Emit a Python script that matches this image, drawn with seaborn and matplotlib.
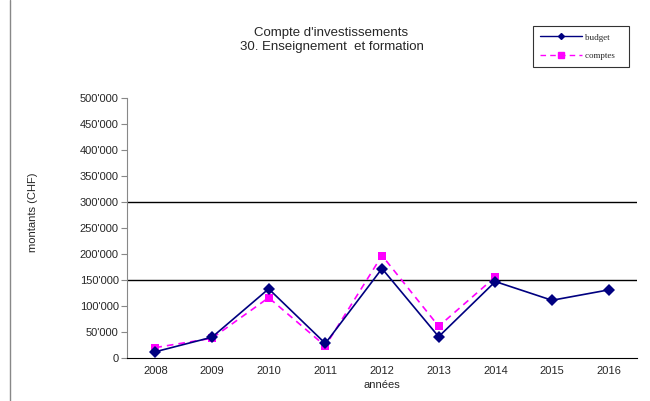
import numpy as np
import pandas as pd
import matplotlib
matplotlib.use("Agg")
from matplotlib import pyplot as plt
from matplotlib.ticker import FuncFormatter, FixedLocator
from matplotlib.lines import Line2D
import seaborn as sns

# data
years = ["2008", "2009", "2010", "2011", "2012", "2013", "2014", "2015", "2016"]
budget = [12000, 40000, 133000, 28000, 172000, 41000, 147000, 111000, 131000]
comptes = [20000, 38000, 116000, 23000, 197000, 61000, 156000]

sns.set_style("white")
plt.rcParams['font.family'] = ['Liberation Sans', 'DejaVu Sans']

df_b = pd.DataFrame({"x": range(len(budget)), "v": budget})
df_c = pd.DataFrame({"x": range(len(comptes)), "v": comptes})

fig = plt.figure(figsize=(6.5, 4.01), dpi=100)
ax = fig.add_axes([127/650, 1-358/401, (637-127)/650, (358-98)/401])

for y in [150000, 300000]:
    ax.axhline(y, color="black", lw=1, zorder=1)

sns.lineplot(data=df_c, x="x", y="v", ax=ax, color="#ff00ff", lw=1.2,
             linestyle=(0, (4, 3)), marker="s", markersize=6, markeredgewidth=0, zorder=3)
sns.lineplot(data=df_b, x="x", y="v", ax=ax, color="#000080", lw=1.2,
             marker="D", markersize=6, markeredgewidth=0, zorder=4)

ax.set_xlim(-0.5, len(years) - 0.5)
ax.set_ylim(0, 500000)
ax.set_yticks(range(0, 500001, 50000))
ax.yaxis.set_major_formatter(FuncFormatter(lambda v, p: "0" if v == 0 else f"{int(v/1000)}'000"))
ax.set_xticks(range(len(years)))
ax.set_xticklabels(years)
ax.xaxis.set_minor_locator(FixedLocator(np.arange(-0.5, len(years), 1)))
ax.tick_params(axis="x", which="major", length=0, labelsize=8, pad=6)
ax.tick_params(axis="x", which="minor", length=4, color="#888888", direction="out")
ax.tick_params(axis="y", length=4, color="#888888", labelsize=8, pad=2, direction="out", left=True)
for s in ["top", "right"]:
    ax.spines[s].set_visible(False)
ax.spines["left"].set_color("#888888")
ax.spines["bottom"].set_color("black")
ax.set_xlabel("années", fontsize=8)
ax.xaxis.set_label_coords(0.5, -0.085)
ax.set_ylabel("montants (CHF)", fontsize=8)
ax.yaxis.set_label_coords(-0.175, 0.56)

fig.text(0.51, 0.90, "Compte d'investissements\n30. Enseignement  et formation",
         ha="center", va="center", fontsize=9.5, linespacing=1.25)

handles = [Line2D([], [], color="#000080", lw=1, marker="D", markersize=3),
           Line2D([], [], color="#ff00ff", lw=1, linestyle=(0, (4, 3)), marker="s", markersize=4)]
leg = fig.legend(handles, ["budget   ", "comptes   "], loc="upper left",
                 bbox_to_anchor=(533/650, 1-26/401), frameon=True,
                 fancybox=False, edgecolor="black", handlelength=4.6,
                 prop={"family": "Liberation Serif", "size": 6.5}, borderpad=0.8,
                 labelspacing=1.1, handletextpad=0.4, borderaxespad=0)
leg.get_frame().set_linewidth(0.8)

fig.add_artist(Line2D([10/650, 10/650], [0, 1], color="#888888", lw=1))

fig.savefig("out.png", dpi=100)
